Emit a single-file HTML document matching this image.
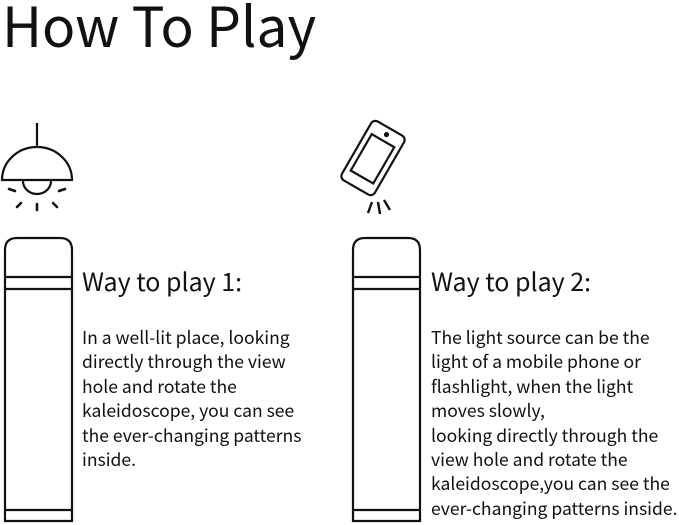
<!DOCTYPE html>
<html><head><meta charset="utf-8"><style>
body{margin:0;width:679px;height:525px;background:#fff;position:relative;overflow:hidden;font-family:"Noto Sans CJK SC","Liberation Sans",sans-serif;color:#111}
.t{position:absolute;left:2px;top:-17px;font-size:55px;font-weight:400;white-space:nowrap}
.h{position:absolute;font-size:25px;font-weight:400;white-space:nowrap}
.p{position:absolute;font-size:17.55px;font-weight:400;line-height:24.4px;white-space:nowrap}
svg{position:absolute;left:0;top:0}
</style></head><body>
<div class="t">How To Play</div>
<svg width="679" height="525" fill="none" stroke="#111" stroke-width="2.2">
<line x1="37" y1="123" x2="37" y2="146"/>
<path d="M2 180 A35 33 0 0 1 72 180 Z"/>
<path d="M23 181 A14 13 0 0 0 51 181"/>
<g stroke-width="2.6" stroke-linecap="round">
<line x1="9" y1="189" x2="15" y2="191"/><line x1="59" y1="191" x2="65" y2="189"/>
<line x1="17" y1="207" x2="21" y2="203"/><line x1="37" y1="204" x2="37" y2="210"/><line x1="53" y1="203" x2="57" y2="207"/>
</g>
<g transform="rotate(30 373 158)">
<rect x="354" y="124" width="38" height="68" rx="5"/>
<rect x="360" y="138" width="26" height="42"/>
<circle cx="373" cy="131" r="1.5" fill="#111"/>
</g>
<g stroke-width="2.4">
<line x1="372" y1="202" x2="368" y2="213"/><line x1="378" y1="202" x2="380" y2="214"/><line x1="384" y1="200" x2="390" y2="210"/>
</g>
<path d="M5 521 V250 Q5 238 17 238 H60 Q72 238 72 250 V521 Z"/>
<line x1="5" y1="277" x2="72" y2="277"/><line x1="5" y1="289" x2="72" y2="289"/>
<line x1="5" y1="510" x2="72" y2="510"/>
<path d="M353 521 V250 Q353 238 365 238 H408 Q420 238 420 250 V521 Z"/>
<line x1="353" y1="277" x2="420" y2="277"/><line x1="353" y1="289" x2="420" y2="289"/>
<line x1="353" y1="510" x2="420" y2="510"/>
</svg>
<div class="h" style="left:82px;top:263px">Way to play 1:</div>
<div class="p" style="left:82px;top:326px">In a well-lit place, looking<br>directly through the view<br>hole and rotate the<br>kaleidoscope, you can see<br>the ever-changing patterns<br>inside.</div>
<div class="h" style="left:431px;top:263px">Way to play 2:</div>
<div class="p" style="left:431px;top:326px">The light source can be the<br>light of a mobile phone or<br>flashlight, when the light<br>moves slowly,<br>looking directly through the<br>view hole and rotate the<br>kaleidoscope,you can see the<br>ever-changing patterns inside.</div>
</body></html>
